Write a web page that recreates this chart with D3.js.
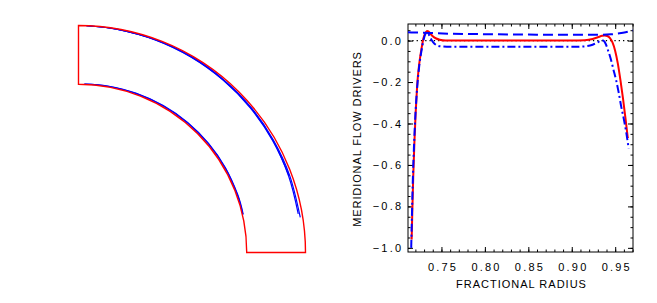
<!DOCTYPE html>
<html>
<head>
<meta charset="utf-8">
<script src="https://cdn.jsdelivr.net/npm/d3@7"></script>
<style>
body { margin: 0; background: #fff; }
svg text { font-family: "Liberation Sans", Arial, sans-serif; fill: #000; }
</style>
</head>
<body>
<script>
// shell boundaries (fractional radius)
var innerRadius = 0.7155;
var outerRadius = 0.9655;

// contour lines in the shell, latitude in degrees from equator
var outerLat1 = [9, 20, 30, 40, 50, 60, 70, 80, 88];
var outerR1 = [0.955, 0.956, 0.957, 0.959, 0.960, 0.962, 0.963, 0.964, 0.965];
var outerLat2 = [10, 20, 30, 40, 50, 60, 70, 80, 88];
var outerR2 = [0.949, 0.951, 0.953, 0.955, 0.957, 0.959, 0.961, 0.963, 0.965];
var outerLat3 = [20, 30, 40, 50, 60, 70, 80, 88];
var outerR3 = [0.953, 0.955, 0.957, 0.958, 0.960, 0.962, 0.964, 0.965];
var innerLat1 = [13, 20, 30, 40, 50, 60, 70, 80, 88];
var innerR1 = [0.7175, 0.719, 0.720, 0.7205, 0.7205, 0.720, 0.719, 0.718, 0.7165];
var innerLat2 = [13, 20, 30, 40, 50, 60, 70, 80, 88];
var innerR2 = [0.719, 0.7205, 0.7215, 0.722, 0.722, 0.7215, 0.7205, 0.719, 0.717];

// meridional flow drivers vs fractional radius
var solidRadius = [0.7157, 0.7165, 0.7175, 0.7188, 0.7203, 0.722, 0.7245, 0.727, 0.7295, 0.732, 0.7335, 0.735, 0.7375, 0.740, 0.744, 0.748, 0.755, 0.77, 0.80, 0.85, 0.90, 0.915, 0.924, 0.930, 0.935, 0.938, 0.941, 0.944, 0.947, 0.950, 0.953, 0.956, 0.959, 0.962, 0.9645];
var solidValues = [-0.96, -0.82, -0.66, -0.5, -0.35, -0.22, -0.11, -0.04, 0.015, 0.04, 0.046, 0.044, 0.033, 0.021, 0.01, 0.004, 0.0, 0.0, 0.0, 0.0, 0.0, 0.002, 0.008, 0.016, 0.023, 0.025, 0.022, 0.012, -0.01, -0.05, -0.11, -0.19, -0.28, -0.38, -0.47];

var dashDotRadius = [0.7152, 0.716, 0.717, 0.7183, 0.720, 0.722, 0.7245, 0.727, 0.7295, 0.732, 0.734, 0.736, 0.739, 0.742, 0.746, 0.75, 0.76, 0.80, 0.85, 0.90, 0.915, 0.924, 0.929, 0.933, 0.936, 0.939, 0.942, 0.945, 0.948, 0.951, 0.954, 0.957, 0.960, 0.963, 0.9655];
var dashDotValues = [-1.0, -0.85, -0.68, -0.52, -0.36, -0.23, -0.12, -0.05, 0.005, 0.035, 0.038, 0.025, 0.0, -0.015, -0.025, -0.028, -0.03, -0.03, -0.03, -0.03, -0.028, -0.02, -0.01, -0.002, 0.0, -0.015, -0.05, -0.09, -0.14, -0.19, -0.25, -0.32, -0.38, -0.45, -0.52];

var dashRadius = [0.7115, 0.72, 0.73, 0.74, 0.76, 0.80, 0.85, 0.90, 0.93, 0.945, 0.955, 0.962, 0.967, 0.9705];
var dashValues = [0.04, 0.039, 0.038, 0.036, 0.033, 0.031, 0.029, 0.028, 0.028, 0.03, 0.035, 0.04, 0.045, 0.049];

var xMajor = [0.75, 0.80, 0.85, 0.90, 0.95];
var xMinor = d3.range(72, 98).map(d => d / 100);
var yMajor = [0.0, -0.2, -0.4, -0.6, -0.8, -1.0];
var yMinor = d3.range(-20, 2).map(d => d / 20);

var w = 657;
var h = 303;

var svg = d3.select('body')
            .append('svg')
            .attr('width', w)
            .attr('height', h);

function zip(a, b) {
  return a.map((v, i) => [v, b[i]]);
}

/* ---- left panel: quarter shell ---- */
var cx = 78.5, cy = 252.5;
var rScale = d3.scaleLinear().domain([0, outerRadius]).range([0, 227]);
var shell = svg.append('g').attr('transform', `translate(${cx},${cy})`);

var contour = d3.lineRadial()
  .angle(d => (90 - d[0]) * Math.PI / 180)
  .radius(d => rScale(d[1]))
  .curve(d3.curveCardinal);

var contours = [
  zip(innerLat1, innerR1), zip(innerLat2, innerR2),
  zip(outerLat1, outerR1), zip(outerLat2, outerR2), zip(outerLat3, outerR3)
];

shell.selectAll('path.contour')
  .data(contours)
  .enter()
  .append('path')
    .attr('class', 'contour')
    .attr('d', contour)
    .attr('fill', 'none')
    .attr('stroke', '#0000ff')
    .attr('stroke-width', 1.2);

shell.append('path')
  .attr('d', d3.arc()({
    innerRadius: rScale(innerRadius),
    outerRadius: rScale(outerRadius),
    startAngle: 0,
    endAngle: Math.PI / 2
  }))
  .attr('fill', 'none')
  .attr('stroke', '#ff0000')
  .attr('stroke-width', 1.4);

/* ---- right panel: line plot ---- */
var pLeft = 408, pRight = 633, pTop = 24, pBottom = 252;
var x = d3.scaleLinear().domain([0.7115, 0.9705]).range([pLeft, pRight]);
var y = d3.scaleLinear().domain([-1.02, 0.08]).range([pBottom, pTop]);

function addAxis(axis, tx, ty, labels) {
  var g = svg.append('g')
    .attr('transform', `translate(${tx},${ty})`)
    .call(axis);
  g.select('.domain').remove();
  g.selectAll('line').attr('stroke', '#000');
  g.selectAll('text')
    .attr('font-family', '"Liberation Sans", Arial, sans-serif')
    .attr('font-size', 11)
    .attr('letter-spacing', '2.2px');
  if (!labels) g.selectAll('text').remove();
  return g;
}

// minor ticks
addAxis(d3.axisBottom(x).tickValues(xMinor).tickSize(-2.5).tickSizeOuter(0), 0, pBottom, false);
addAxis(d3.axisTop(x).tickValues(xMinor).tickSize(-2.5).tickSizeOuter(0), 0, pTop, false);
addAxis(d3.axisLeft(y).tickValues(yMinor).tickSize(-2.5).tickSizeOuter(0), pLeft, 0, false);
addAxis(d3.axisRight(y).tickValues(yMinor).tickSize(-2.5).tickSizeOuter(0), pRight, 0, false);

// major ticks
var xb = addAxis(d3.axisBottom(x).tickValues(xMajor).tickSize(-5).tickSizeOuter(0)
  .tickPadding(11).tickFormat(d3.format('.2f')), 0, pBottom, true);
xb.selectAll('text').attr('dx', '1.1px');
addAxis(d3.axisTop(x).tickValues(xMajor).tickSize(-5).tickSizeOuter(0), 0, pTop, false);
var yl = addAxis(d3.axisLeft(y).tickValues(yMajor).tickSize(-5).tickSizeOuter(0)
  .tickPadding(7).tickFormat(d3.format('.1f')), pLeft, 0, true);
yl.selectAll('text').attr('dx', '2.2px');
addAxis(d3.axisRight(y).tickValues(yMajor).tickSize(-5).tickSizeOuter(0), pRight, 0, false);

svg.append('rect')
  .attr('x', pLeft)
  .attr('y', pTop)
  .attr('width', pRight - pLeft)
  .attr('height', pBottom - pTop)
  .attr('fill', 'none')
  .attr('stroke', '#000')
  .attr('stroke-width', 1);

var line = d3.line()
  .x(d => x(d[0]))
  .y(d => y(d[1]))
  .curve(d3.curveMonotoneX);

// zero line
svg.append('path')
  .attr('d', line([[0.7115, 0], [0.9705, 0]]))
  .attr('fill', 'none')
  .attr('stroke', '#000')
  .attr('stroke-width', 1.3)
  .attr('stroke-dasharray', '1.3,3');

var series = [
  { pts: zip(solidRadius, solidValues), color: '#ff0000', dash: null },
  { pts: zip(dashRadius, dashValues), color: '#0000ff', dash: '10,5' },
  { pts: zip(dashDotRadius, dashDotValues), color: '#0000ff', dash: '8,3,2,3' }
];

svg.selectAll('path.series')
  .data(series)
  .enter()
  .append('path')
    .attr('class', 'series')
    .attr('d', d => line(d.pts))
    .attr('fill', 'none')
    .attr('stroke', d => d.color)
    .attr('stroke-width', 2)
    .attr('stroke-dasharray', d => d.dash);

// axis titles
svg.append('text')
  .text('FRACTIONAL RADIUS')
  .attr('x', (pLeft + pRight) / 2 + 1)
  .attr('y', 288)
  .attr('text-anchor', 'middle')
  .attr('font-size', 11)
  .attr('letter-spacing', '1px');

svg.append('text')
  .text('MERIDIONAL FLOW DRIVERS')
  .attr('transform', 'translate(361,139) rotate(-90)')
  .attr('text-anchor', 'middle')
  .attr('font-size', 11)
  .attr('letter-spacing', '0.9px');
</script>
</body>
</html>
